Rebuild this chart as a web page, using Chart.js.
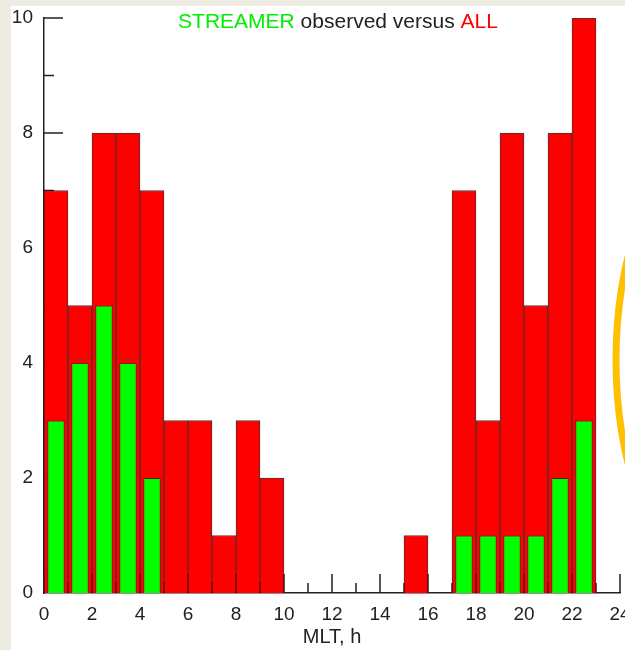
<!DOCTYPE html>
<html>
<head>
<meta charset="utf-8">
<script src="https://cdn.jsdelivr.net/npm/chart.js@4/dist/chart.umd.min.js"></script>
<style>
    html, body { margin: 0; padding: 0; }
    body { width: 625px; height: 650px; background: #eeebe1; position: relative; overflow: hidden; }
    #sheet { position: absolute; left: 11px; top: 6px; width: 614px; height: 644px; background: #fff; }
    canvas { display: block; }
</style>
</head>
<body>
<div id="sheet"><canvas id="chart" width="614" height="644"></canvas></div>
<script>
// MLT hour bins (left edge of each 1 h bin)
const hours = [0, 1, 2, 3, 4, 5, 6, 7, 8, 9, 10, 11, 12, 13, 14, 15, 16, 17, 18, 19, 20, 21, 22, 23];
// all events per bin
const allCounts = [7, 5, 8, 8, 7, 3, 3, 1, 3, 2, 0, 0, 0, 0, 0, 1, 0, 7, 3, 8, 5, 8, 10, 0];
// bins where a streamer was observed
const streamerCounts = [3, 4, 5, 4, 2, 0, 0, 0, 0, 0, 0, 0, 0, 0, 0, 0, 0, 1, 1, 1, 1, 2, 3, 0];

const xTicks = [0, 2, 4, 6, 8, 10, 12, 14, 16, 18, 20, 22, 24];
const yTicks = [0, 2, 4, 6, 8, 10];

const INK = '#222';
const FONT = '"Liberation Sans", Arial, sans-serif';

const toPoints = arr => hours.map((h, i) => ({ x: h + 0.5, y: arr[i] }));

// inward tick marks, long on labelled values, short in between (behind the bars)
const tickMarks = {
    id: 'tickMarks',
    beforeDatasetsDraw(chart) {
        const { ctx, scales: { x, y } } = chart;
        ctx.save();
        ctx.strokeStyle = INK;
        ctx.lineWidth = 1.5;
        ctx.beginPath();
        for (let v = 0; v <= 24; v++) {
            const px = x.getPixelForValue(v);
            const len = xTicks.includes(v) ? 19 : 10;
            ctx.moveTo(px, y.bottom);
            ctx.lineTo(px, y.bottom - len);
        }
        for (let v = 1; v <= 10; v++) {
            const py = y.getPixelForValue(v);
            const len = yTicks.includes(v) ? 19 : 10;
            ctx.moveTo(x.left, py);
            ctx.lineTo(x.left + len, py);
        }
        ctx.stroke();
        ctx.restore();
    }
};

// two-colour heading
const heading = {
    id: 'heading',
    afterDraw(chart) {
        const { ctx } = chart;
        const parts = [
            ['STREAMER', '#00ee00'],
            [' observed versus ', INK],
            ['ALL', '#ff0000']
        ];
        ctx.save();
        ctx.font = `21px ${FONT}`;
        ctx.textBaseline = 'alphabetic';
        ctx.textAlign = 'left';
        const total = parts.reduce((s, p) => s + ctx.measureText(p[0]).width, 0);
        let cx = 327 - total / 2;
        parts.forEach(([txt, col]) => {
            ctx.fillStyle = col;
            ctx.fillText(txt, cx, 22);
            cx += ctx.measureText(txt).width;
        });
        ctx.restore();
    }
};

// the yellow outline that overlaps the right edge of the slide
const overlayArc = {
    id: 'overlayArc',
    afterDraw(chart) {
        const { ctx } = chart;
        ctx.save();
        ctx.strokeStyle = '#ffc000';
        ctx.lineWidth = 7;
        ctx.beginPath();
        ctx.ellipse(689, 354, 84, 200, 0, 0, Math.PI * 2);
        ctx.stroke();
        ctx.restore();
    }
};

new Chart(document.getElementById('chart'), {
    type: 'bar',
    data: {
        datasets: [
            {
                label: 'STREAMER',
                data: toPoints(streamerCounts),
                backgroundColor: '#00ff00',
                borderColor: 'rgba(20,60,20,0.75)',
                borderWidth: 1,
                barPercentage: 0.73,
                categoryPercentage: 1
            },
            {
                label: 'ALL',
                data: toPoints(allCounts),
                backgroundColor: '#ff0000',
                borderColor: 'rgba(40,0,0,0.8)',
                borderWidth: 1,
                barPercentage: 1,
                categoryPercentage: 1
            }
        ]
    },
    options: {
        responsive: false,
        animation: false,
        events: [],
        layout: { padding: { top: 12, right: 5, left: 0, bottom: 0 } },
        plugins: {
            legend: { display: false },
            tooltip: { enabled: false }
        },
        datasets: { bar: { grouped: false } },
        scales: {
            x: {
                type: 'linear',
                min: 0,
                max: 24,
                offset: false,
                grid: { display: false, drawTicks: false, offset: false },
                border: { display: true, color: INK, width: 1.5 },
                ticks: {
                    stepSize: 1,
                    autoSkip: false,
                    maxRotation: 0,
                    padding: 10,
                    color: INK,
                    font: { family: FONT, size: 19 },
                    callback: v => xTicks.includes(v) ? String(v) : ''
                },
                title: {
                    display: true,
                    text: 'MLT, h',
                    color: INK,
                    font: { family: FONT, size: 20 },
                    padding: { top: 0, bottom: 1 }
                },
                afterFit(scale) {
                    scale.height = 57;
                    scale.paddingLeft = 0;
                    scale.paddingRight = 0;
                }
            },
            y: {
                min: 0,
                max: 10,
                grid: { display: false, drawTicks: false },
                border: { display: true, color: INK, width: 1.5 },
                ticks: {
                    stepSize: 1,
                    autoSkip: false,
                    padding: 11,
                    color: INK,
                    font: { family: FONT, size: 19 },
                    callback: v => yTicks.includes(v) ? String(v) : ''
                },
                afterFit(scale) {
                    scale.width = 33;
                    scale.paddingTop = 0;
                    scale.paddingBottom = 0;
                }
            }
        }
    },
    plugins: [tickMarks, heading, overlayArc]
});
</script>
</body>
</html>
